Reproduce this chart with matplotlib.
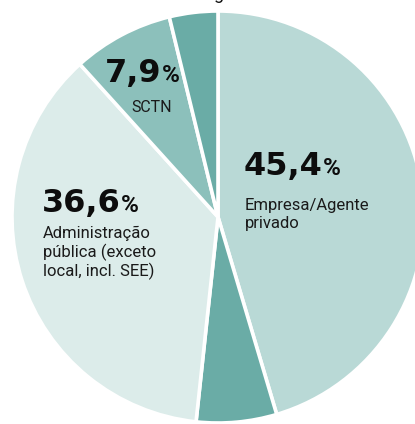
import matplotlib
matplotlib.use("Agg")
import matplotlib.pyplot as plt

# Data (clockwise from top)
categories = ["Empresa/Agente privado", "Outros 1", "Administração pública (exceto local, incl. SEE)", "SCTN", "Outros 2"]
values = [45.4, 6.3, 36.6, 7.9, 3.8]
colors = ["#b9d9d6", "#6aaca6", "#dcecea", "#8cc0bb", "#6aaca6"]

W, H = 415, 424
fig = plt.figure(figsize=(W / 100, H / 100), dpi=100)
ax = fig.add_axes([0, 0, 1, 1])

cx, cy, r = 218, H - 217, 206
ax.pie(values, colors=colors, startangle=90, counterclock=False,
       center=(cx, cy), radius=r, frame=True,
       wedgeprops=dict(edgecolor="white", linewidth=2.6))
ax.set_xlim(0, W)
ax.set_ylim(0, H)
ax.axis("off")

cond = ["Roboto", "DejaVu Sans"]

fig.canvas.draw()
renderer = fig.canvas.get_renderer()


def big_label(x, y_img, num, size=23, pct_size=17.5):
    t = ax.text(x, H - y_img, num, fontsize=size, fontweight="bold",
                family="DejaVu Sans", color="#0d0d0d", va="baseline", ha="left")
    bb = t.get_window_extent(renderer=renderer)
    ax.text(bb.x1, H - y_img, "%", fontsize=pct_size, fontweight="bold",
            family="Roboto", color="#0d0d0d", va="baseline", ha="left")


def lines(x, y0_img, texts, step, size=12, ha="left"):
    for i, s in enumerate(texts):
        ax.text(x, H - (y0_img + i * step), s, fontsize=size, family=cond,
                color="#1a1a1a", va="baseline", ha=ha)


big_label(244, 175, "45,4")
lines(245, 210, ["Empresa/Agente", "privado"], 18)

big_label(42, 212, "36,6")
lines(43, 238, ["Administração", "pública (exceto", "local, incl. SEE)"], 19)

big_label(105, 82, "7,9")
lines(172, 112, ["SCTN"], 0, size=11.5, ha="right")

# cut-off title descender at top
ax.text(218, H + 1, "g", fontsize=13, family=cond, color="#111111",
        va="baseline", ha="center", clip_on=False)

fig.savefig("out.png", dpi=100)
